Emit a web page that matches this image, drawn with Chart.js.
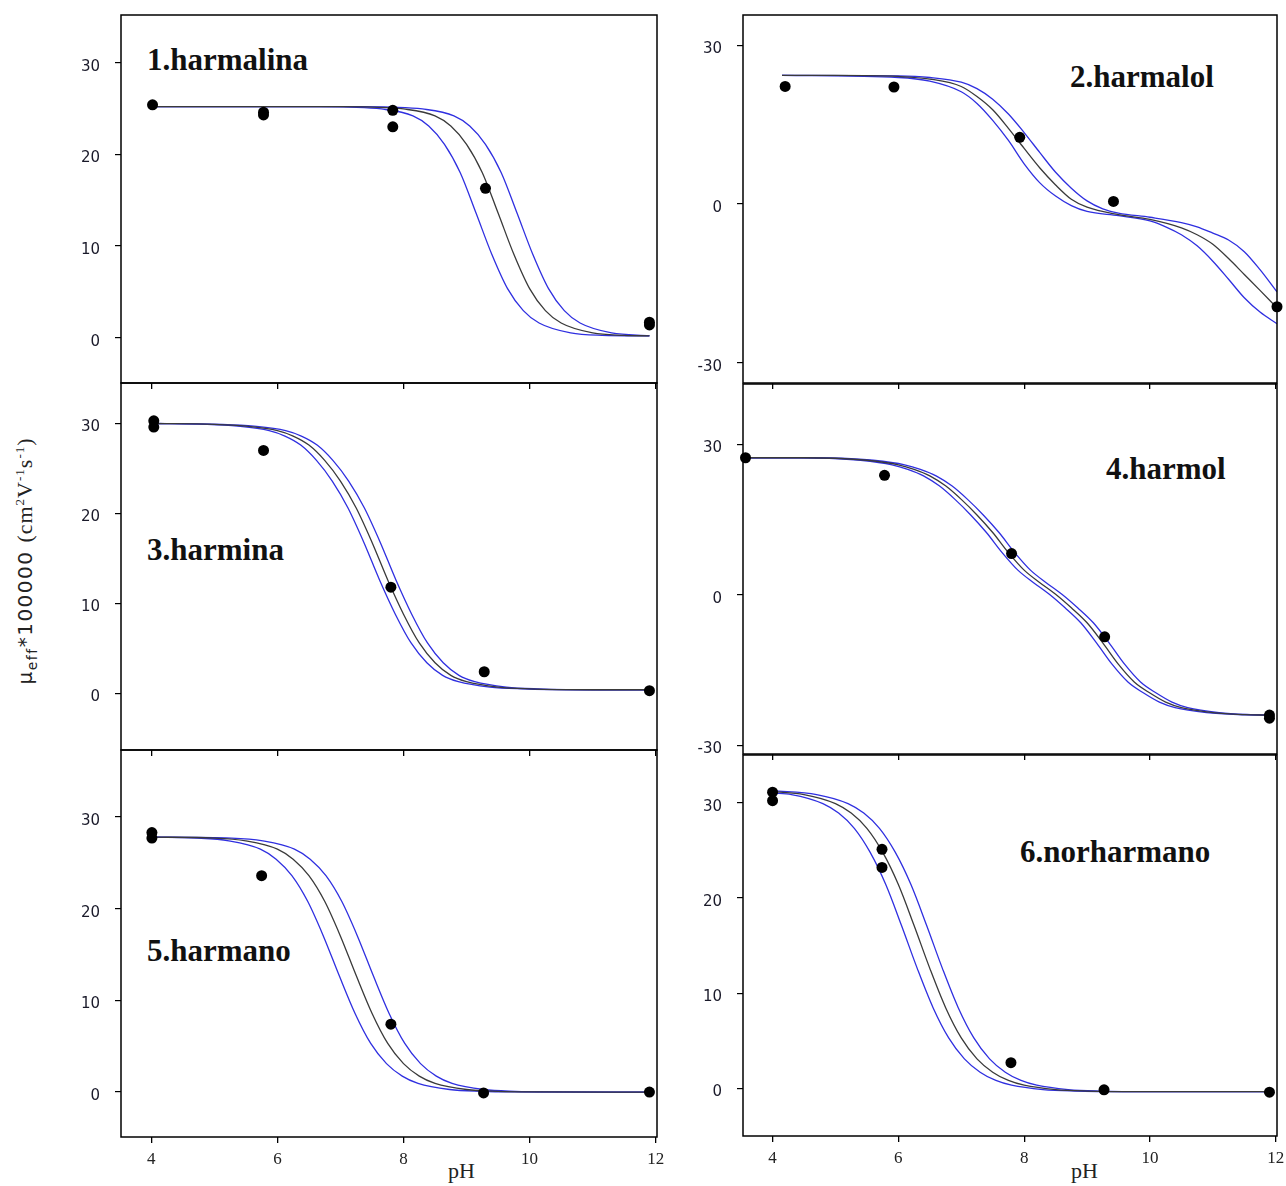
<!DOCTYPE html>
<html>
<head>
<meta charset="utf-8">
<script src="https://cdn.jsdelivr.net/npm/chart.js@4.4.1/dist/chart.umd.min.js"></script>
<style>
  body { margin: 0; background: #fff; width: 1286px; height: 1186px; position: relative; overflow: hidden; }
  canvas { position: absolute; }
  .titulo { position: absolute; font: bold 31px "Liberation Serif", serif; line-height: 31px; color: #111; white-space: nowrap; }
  .ph { position: absolute; font: 22px "Liberation Serif", serif; line-height: 22px; color: #222; }
  #tituloY { position: absolute; left: 26px; top: 561px; transform: translate(-50%, -50%) rotate(-90deg);
             white-space: nowrap; font: 20px "DejaVu Sans", sans-serif; color: #222; letter-spacing: 1.5px; }
  #tituloY .serif { font-family: "Liberation Serif", serif; font-size: 22px; letter-spacing: 1px; }
  #tituloY sup { font-size: 13px; }
  #tituloY sub { font-size: 14px; }
</style>
</head>
<body>
<div id="tituloY">μ<sub>eff</sub>*100000 <span class="serif">(cm<sup>2</sup>V<sup>-1</sup>s<sup>-1</sup>)</span></div>
<div class="ph" style="left:448px; top:1160px;">pH</div>
<div class="ph" style="left:1071px; top:1160px;">pH</div>
<div class="titulo" style="left:147px; top:44px;">1.harmalina</div>
<div class="titulo" style="left:1070px; top:61px;">2.harmalol</div>
<div class="titulo" style="left:147px; top:534px;">3.harmina</div>
<div class="titulo" style="left:1106px; top:453px;">4.harmol</div>
<div class="titulo" style="left:147px; top:935px;">5.harmano</div>
<div class="titulo" style="left:1020px; top:836px;">6.norharmano</div>

<script>
// ==================== DATOS ====================
const ticksPH = [4, 6, 8, 10, 12];
const ticksMu = [0, 10, 20, 30];
const ticksMuAncho = [-30, 0, 30];

// 1. harmalina
const p1PuntosPH = [4.02, 5.78, 5.78, 7.83, 7.83, 9.3, 11.9, 11.9];
const p1PuntosMu = [25.4, 24.6, 24.3, 24.8, 23.0, 16.3, 1.7, 1.4];
const p1NegraPH = [4, 7, 7.5, 8, 8.5, 8.75, 9, 9.25, 9.5, 9.75, 10, 10.25, 10.5, 11, 11.5, 11.9];
const p1Negra = [25.2, 25.2, 25.15, 24.95, 24.2, 23.1, 21.1, 18.0, 13.6, 9.1, 5.35, 2.95, 1.6, 0.52, 0.26, 0.2];
const p1AzulIzqPH = [4, 6.65, 7.15, 7.65, 8.15, 8.4, 8.65, 8.9, 9.15, 9.4, 9.65, 9.9, 10.15, 10.65, 11.15, 11.9];
const p1AzulIzq = [25.2, 25.2, 25.15, 24.95, 24.2, 23.1, 21.1, 18.0, 13.6, 9.1, 5.35, 2.95, 1.6, 0.52, 0.26, 0.2];
const p1AzulDerPH = [4, 7.3, 7.8, 8.3, 8.8, 9.05, 9.3, 9.55, 9.8, 10.05, 10.3, 10.55, 10.8, 11.3, 11.9];
const p1AzulDer = [25.2, 25.2, 25.15, 24.95, 24.2, 23.1, 21.1, 18.0, 13.6, 9.1, 5.35, 2.95, 1.6, 0.52, 0.22];

// 2. harmalol
const p2PuntosPH = [4.2, 5.93, 7.93, 9.42, 12.02];
const p2PuntosMu = [22.2, 22.1, 12.6, 0.5, -19.4];
const p2NegraPH = [4.15, 5, 6, 6.5, 7, 7.25, 7.5, 7.75, 8, 8.25, 8.5, 8.75, 9, 9.5, 10, 10.5, 10.75, 11, 11.25, 11.5, 11.75, 12.02];
const p2Negra = [24.3, 24.3, 24.1, 23.6, 22.2, 20.3, 17.8, 14.3, 10.5, 6.8, 3.6, 0.9, -0.6, -2.0, -2.9, -4.5, -5.8, -7.6, -10.3, -13.3, -16.3, -19.6];
const p2AzulSupPH = [4.15, 6, 6.5, 7, 7.25, 7.5, 7.75, 8, 8.25, 8.5, 8.75, 9, 9.25, 9.5, 10, 10.5, 10.75, 11, 11.25, 11.5, 11.75, 12.02];
const p2AzulSup = [24.3, 24.2, 23.9, 23.0, 21.8, 19.8, 17.0, 13.5, 9.7, 6.0, 3.0, 0.6, -0.9, -1.7, -2.5, -3.5, -4.3, -5.5, -6.8, -9.0, -12.4, -16.6];
const p2AzulInfPH = [4.15, 6, 6.5, 7, 7.25, 7.5, 7.75, 8, 8.25, 8.5, 8.75, 9, 9.5, 10, 10.25, 10.5, 10.75, 11, 11.25, 11.5, 11.75, 12.02];
const p2AzulInf = [24.3, 23.9, 23.2, 21.2, 19.0, 15.8, 12.0, 7.6, 4.0, 1.5, -0.3, -1.4, -2.2, -3.2, -4.3, -5.8, -7.9, -10.8, -14.2, -17.7, -20.4, -22.6];

// 3. harmina
const p3PuntosPH = [4.04, 4.04, 5.78, 7.8, 9.28, 11.9];
const p3PuntosMu = [30.3, 29.6, 27.0, 11.8, 2.4, 0.3];
const p3NegraPH = [4, 5, 5.5, 6, 6.25, 6.5, 6.75, 7, 7.25, 7.5, 7.75, 8, 8.25, 8.5, 8.75, 9, 9.5, 10, 11, 11.9];
const p3Negra = [30.0, 29.9, 29.7, 29.2, 28.6, 27.6, 25.9, 23.6, 20.6, 16.8, 12.6, 8.8, 5.6, 3.4, 2.0, 1.3, 0.7, 0.5, 0.4, 0.4];
const p3AzulIzqPH = [4, 4.87, 5.37, 5.87, 6.12, 6.37, 6.62, 6.87, 7.12, 7.37, 7.62, 7.87, 8.12, 8.37, 8.62, 8.87, 9.37, 9.87, 10.87, 11.9];
const p3AzulIzq = [30.0, 29.9, 29.7, 29.2, 28.6, 27.6, 25.9, 23.6, 20.6, 16.8, 12.6, 8.8, 5.6, 3.4, 2.0, 1.3, 0.7, 0.5, 0.4, 0.4];
const p3AzulDerPH = [4, 5.13, 5.63, 6.13, 6.38, 6.63, 6.88, 7.13, 7.38, 7.63, 7.88, 8.13, 8.38, 8.63, 8.88, 9.13, 9.63, 10.13, 11.13, 11.9];
const p3AzulDer = [30.0, 29.9, 29.7, 29.2, 28.6, 27.6, 25.9, 23.6, 20.6, 16.8, 12.6, 8.8, 5.6, 3.4, 2.0, 1.3, 0.7, 0.5, 0.4, 0.4];

// 4. harmol
const p4PuntosPH = [3.57, 5.78, 7.8, 9.28, 11.9, 11.9];
const p4PuntosMu = [27.3, 23.8, 8.2, -8.4, -24.0, -24.6];
const p4NegraPH = [3.53, 4.5, 5, 5.5, 6, 6.25, 6.5, 6.75, 7, 7.25, 7.5, 7.75, 8, 8.25, 8.5, 8.75, 9, 9.25, 9.5, 9.75, 10, 10.25, 10.5, 11, 11.5, 11.9];
const p4Negra = [27.3, 27.3, 27.2, 26.8, 25.9, 25.0, 23.7, 21.7, 19.0, 15.9, 12.4, 8.4, 4.9, 2.4, 0.1, -2.6, -5.6, -9.6, -13.9, -17.4, -19.6, -21.4, -22.5, -23.5, -23.9, -24.0];
const p4AzulIzqPH = [3.53, 4.4, 4.9, 5.4, 5.9, 6.15, 6.4, 6.65, 6.9, 7.15, 7.4, 7.65, 7.9, 8.15, 8.4, 8.65, 8.9, 9.15, 9.4, 9.65, 9.9, 10.15, 10.4, 10.9, 11.4, 11.9];
const p4AzulIzq = [27.3, 27.3, 27.2, 26.8, 25.9, 25.0, 23.7, 21.7, 19.0, 15.9, 12.4, 8.4, 4.9, 2.4, 0.1, -2.6, -5.6, -9.6, -13.9, -17.4, -19.6, -21.4, -22.5, -23.5, -23.9, -24.0];
const p4AzulDerPH = [3.53, 4.6, 5.1, 5.6, 6.1, 6.35, 6.6, 6.85, 7.1, 7.35, 7.6, 7.85, 8.1, 8.35, 8.6, 8.85, 9.1, 9.35, 9.6, 9.85, 10.1, 10.35, 10.6, 11.1, 11.6, 11.9];
const p4AzulDer = [27.3, 27.3, 27.2, 26.8, 25.9, 25.0, 23.7, 21.7, 19.0, 15.9, 12.4, 8.4, 4.9, 2.4, 0.1, -2.6, -5.6, -9.6, -13.9, -17.4, -19.6, -21.4, -22.5, -23.5, -23.9, -24.0];

// 5. harmano
const p5PuntosPH = [4.01, 4.01, 5.75, 7.8, 9.27, 11.9];
const p5PuntosMu = [28.3, 27.7, 23.6, 7.4, -0.1, 0];
const p5NegraPH = [4, 5, 5.5, 6, 6.25, 6.5, 6.75, 7, 7.25, 7.5, 7.75, 8, 8.25, 8.5, 9, 9.5, 10, 11.9];
const p5Negra = [27.8, 27.7, 27.4, 26.5, 25.4, 23.6, 20.8, 17.0, 12.7, 8.6, 5.3, 3.1, 1.74, 0.95, 0.28, 0.08, 0.02, 0];
const p5AzulIzqPH = [4, 4.73, 5.23, 5.73, 5.98, 6.23, 6.48, 6.73, 6.98, 7.23, 7.48, 7.73, 7.98, 8.23, 8.73, 9.23, 9.73, 11.9];
const p5AzulIzq = [27.8, 27.7, 27.4, 26.5, 25.4, 23.6, 20.8, 17.0, 12.7, 8.6, 5.3, 3.1, 1.74, 0.95, 0.28, 0.08, 0.02, 0];
const p5AzulDerPH = [4, 5.27, 5.77, 6.27, 6.52, 6.77, 7.02, 7.27, 7.52, 7.77, 8.02, 8.27, 8.52, 8.77, 9.27, 9.77, 10.27, 11.9];
const p5AzulDer = [27.8, 27.7, 27.4, 26.5, 25.4, 23.6, 20.8, 17.0, 12.7, 8.6, 5.3, 3.1, 1.74, 0.95, 0.28, 0.08, 0.02, 0];

// 6. norharmano
const p6PuntosPH = [4.0, 4.0, 5.74, 5.74, 7.79, 9.27, 11.9];
const p6PuntosMu = [31.1, 30.2, 25.1, 23.2, 2.7, -0.15, -0.4];
const p6NegraPH = [4, 4.5, 5, 5.25, 5.5, 5.75, 6, 6.25, 6.5, 6.75, 7, 7.25, 7.5, 7.75, 8, 8.5, 9, 10, 11.9];
const p6Negra = [31.15, 30.85, 29.9, 28.9, 27.3, 24.8, 21.4, 17.1, 12.6, 8.5, 5.3, 3.1, 1.7, 0.83, 0.33, -0.13, -0.28, -0.34, -0.35];
const p6AzulIzqPH = [4, 4.3, 4.8, 5.05, 5.3, 5.55, 5.8, 6.05, 6.3, 6.55, 6.8, 7.05, 7.3, 7.55, 7.8, 8.3, 8.8, 9.8, 11.9];
const p6AzulIzq = [31.0, 30.85, 29.9, 28.9, 27.3, 24.8, 21.4, 17.1, 12.6, 8.5, 5.3, 3.1, 1.7, 0.83, 0.33, -0.13, -0.28, -0.34, -0.35];
const p6AzulDerPH = [4, 4.7, 5.2, 5.45, 5.7, 5.95, 6.2, 6.45, 6.7, 6.95, 7.2, 7.45, 7.7, 7.95, 8.2, 8.7, 9.2, 10.2, 11.9];
const p6AzulDer = [31.25, 30.85, 29.9, 28.9, 27.3, 24.8, 21.4, 17.1, 12.6, 8.5, 5.3, 3.1, 1.7, 0.83, 0.33, -0.13, -0.28, -0.34, -0.35];

// ==================== ESTILO ====================
const AZUL = '#2f2fe0';
const NEGRO = '#3a3a3a';
const ANCHO_Y = 70;   // espacio reservado para el eje y
const PAD_SUP = 10;
const PAD_DER = 12;

// dibuja el recuadro completo alrededor del area de datos
const marco = {
  id: 'marco',
  afterDraw(chart) {
    const { ctx, chartArea: a } = chart;
    ctx.save();
    ctx.strokeStyle = '#000';
    ctx.lineWidth = 1.5;
    ctx.strokeRect(a.left, a.top, a.right - a.left, a.bottom - a.top);
    ctx.restore();
  }
};

function pares(xs, ys) {
  return xs.map((x, i) => ({ x: x, y: ys[i] }));
}

function curva(xs, ys, color) {
  return {
    data: pares(xs, ys),
    borderColor: color,
    borderWidth: 1.3,
    pointRadius: 0,
    cubicInterpolationMode: 'monotone',
    fill: false
  };
}

function crearPanel(p) {
  const conEtiquetas = p.etiquetasX;
  const altoX = conEtiquetas ? 50 : 10;
  const ancho = ANCHO_Y + (p.der - p.izq) + PAD_DER;
  const alto = PAD_SUP + (p.inf - p.sup) + altoX;

  const canvas = document.createElement('canvas');
  canvas.width = ancho;
  canvas.height = alto;
  canvas.style.left = (p.izq - ANCHO_Y) + 'px';
  canvas.style.top = (p.sup - PAD_SUP) + 'px';
  canvas.style.width = ancho + 'px';
  canvas.style.height = alto + 'px';
  document.body.appendChild(canvas);

  new Chart(canvas.getContext('2d'), {
    type: 'line',
    data: {
      datasets: [
        {
          data: pares(p.puntosPH, p.puntosMu),
          showLine: false,
          pointRadius: 5.5,
          pointHoverRadius: 5.5,
          pointBackgroundColor: '#000',
          pointBorderColor: '#000',
          pointBorderWidth: 0,
          clip: false
        },
        curva(p.negraPH, p.negra, NEGRO),
        curva(p.azul1PH, p.azul1, AZUL),
        curva(p.azul2PH, p.azul2, AZUL)
      ]
    },
    options: {
      responsive: false,
      animation: false,
      devicePixelRatio: 1,
      layout: { autoPadding: false, padding: { left: 0, top: PAD_SUP, right: PAD_DER, bottom: 0 } },
      plugins: { legend: { display: false }, tooltip: { enabled: false } },
      scales: {
        x: {
          type: 'linear',
          min: p.xMin,
          max: p.xMax,
          afterBuildTicks: s => { s.ticks = ticksPH.map(v => ({ value: v })); },
          afterFit: s => { s.height = altoX; s.paddingLeft = 0; s.paddingRight = 0; },
          grid: { drawOnChartArea: false, drawTicks: true, tickLength: 6, color: '#000', lineWidth: 1.3 },
          border: { display: false },
          ticks: {
            display: conEtiquetas,
            maxRotation: 0,
            padding: 6,
            color: '#222',
            font: { family: 'Liberation Serif', size: 17 }
          }
        },
        y: {
          type: 'linear',
          min: p.yMin,
          max: p.yMax,
          afterBuildTicks: s => { s.ticks = p.ticksY.map(v => ({ value: v })); },
          afterFit: s => { s.width = ANCHO_Y; s.paddingTop = 0; s.paddingBottom = 0; },
          grid: { drawOnChartArea: false, drawTicks: true, tickLength: 6, color: '#000', lineWidth: 1.2 },
          border: { display: false },
          ticks: {
            padding: 15,
            labelOffset: 4,
            color: '#1a1a2a',
            font: { family: 'DejaVu Sans', size: 15 }
          }
        }
      }
    },
    plugins: [marco]
  });
}

// ==================== PANELES ====================
crearPanel({ izq: 121, der: 657, sup: 15, inf: 383, xMin: 3.52, xMax: 12.02, yMin: -4.94, yMax: 35.2,
  ticksY: ticksMu, etiquetasX: false,
  puntosPH: p1PuntosPH, puntosMu: p1PuntosMu, negraPH: p1NegraPH, negra: p1Negra,
  azul1PH: p1AzulIzqPH, azul1: p1AzulIzq, azul2PH: p1AzulDerPH, azul2: p1AzulDer });

crearPanel({ izq: 121, der: 657, sup: 383, inf: 750, xMin: 3.52, xMax: 12.02, yMin: -6.3, yMax: 34.5,
  ticksY: ticksMu, etiquetasX: false,
  puntosPH: p3PuntosPH, puntosMu: p3PuntosMu, negraPH: p3NegraPH, negra: p3Negra,
  azul1PH: p3AzulIzqPH, azul1: p3AzulIzq, azul2PH: p3AzulDerPH, azul2: p3AzulDer });

crearPanel({ izq: 121, der: 657, sup: 750, inf: 1137, xMin: 3.52, xMax: 12.02, yMin: -4.9, yMax: 37.3,
  ticksY: ticksMu, etiquetasX: true,
  puntosPH: p5PuntosPH, puntosMu: p5PuntosMu, negraPH: p5NegraPH, negra: p5Negra,
  azul1PH: p5AzulIzqPH, azul1: p5AzulIzq, azul2PH: p5AzulDerPH, azul2: p5AzulDer });

crearPanel({ izq: 743, der: 1277, sup: 15, inf: 383, xMin: 3.53, xMax: 12.02, yMin: -33.8, yMax: 35.7,
  ticksY: ticksMuAncho, etiquetasX: false,
  puntosPH: p2PuntosPH, puntosMu: p2PuntosMu, negraPH: p2NegraPH, negra: p2Negra,
  azul1PH: p2AzulSupPH, azul1: p2AzulSup, azul2PH: p2AzulInfPH, azul2: p2AzulInf });

crearPanel({ izq: 743, der: 1277, sup: 384, inf: 754, xMin: 3.53, xMax: 12.02, yMin: -31.75, yMax: 42.0,
  ticksY: ticksMuAncho, etiquetasX: false,
  puntosPH: p4PuntosPH, puntosMu: p4PuntosMu, negraPH: p4NegraPH, negra: p4Negra,
  azul1PH: p4AzulIzqPH, azul1: p4AzulIzq, azul2PH: p4AzulDerPH, azul2: p4AzulDer });

crearPanel({ izq: 743, der: 1277, sup: 755, inf: 1136, xMin: 3.53, xMax: 12.02, yMin: -5.0, yMax: 35.0,
  ticksY: ticksMu, etiquetasX: true,
  puntosPH: p6PuntosPH, puntosMu: p6PuntosMu, negraPH: p6NegraPH, negra: p6Negra,
  azul1PH: p6AzulIzqPH, azul1: p6AzulIzq, azul2PH: p6AzulDerPH, azul2: p6AzulDer });
</script>
</body>
</html>
